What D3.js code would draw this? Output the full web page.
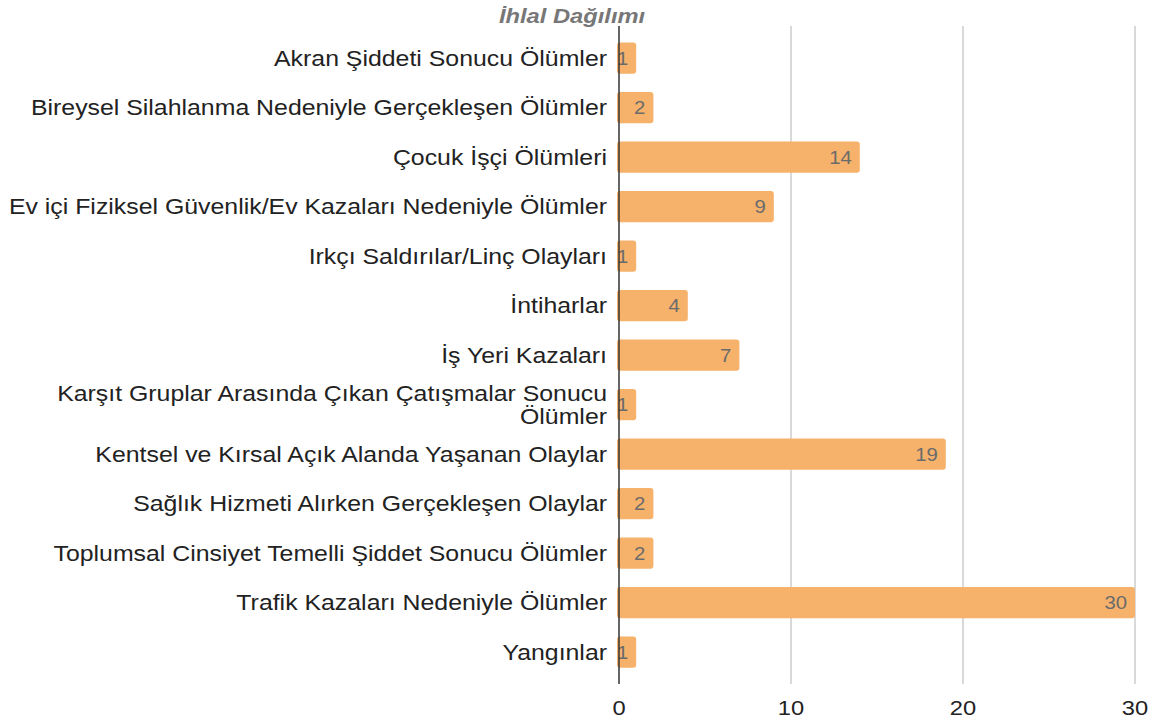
<!DOCTYPE html>
<html>
<head>
<meta charset="utf-8">
<script src="https://cdn.jsdelivr.net/npm/d3@7"></script>
<style>
  body { margin: 0; background: #fff; }
  svg { display: block; font-family: "Liberation Sans", Arial, sans-serif; }
</style>
</head>
<body>
<div id="chart"></div>
<script>
// ---- Data ----
const categories = [
  "Akran Şiddeti Sonucu Ölümler",
  "Bireysel Silahlanma Nedeniyle Gerçekleşen Ölümler",
  "Çocuk İşçi Ölümleri",
  "Ev içi Fiziksel Güvenlik/Ev Kazaları Nedeniyle Ölümler",
  "Irkçı Saldırılar/Linç Olayları",
  "İntiharlar",
  "İş Yeri Kazaları",
  "Karşıt Gruplar Arasında Çıkan Çatışmalar Sonucu Ölümler",
  "Kentsel ve Kırsal Açık Alanda Yaşanan Olaylar",
  "Sağlık Hizmeti Alırken Gerçekleşen Olaylar",
  "Toplumsal Cinsiyet Temelli Şiddet Sonucu Ölümler",
  "Trafik Kazaları Nedeniyle Ölümler",
  "Yangınlar"
];
const values = [1, 2, 14, 9, 1, 4, 7, 1, 19, 2, 2, 30, 1];
const xTicks = [0, 10, 20, 30];
// line breaks for long labels
const labelLines = {
  "Karşıt Gruplar Arasında Çıkan Çatışmalar Sonucu Ölümler":
    ["Karşıt Gruplar Arasında Çıkan Çatışmalar Sonucu", "Ölümler"]
};
const title = "İhlal Dağılımı";

const W = 1157, H = 726;
const SX = 1.13; // text in the source is slightly wide
const svg = d3.select("#chart").append("svg")
  .attr("width", W).attr("height", H);

const x = d3.scaleLinear().domain([0, 30]).range([619, 1135]);
const y = d3.scaleBand().domain(categories).range([33.3, 676.8]).paddingInner(0.37).paddingOuter(0.185);

// place a text node at (px, py) with horizontal stretch
const at = (px, py) => `translate(${px},${py}) scale(${SX},1)`;

// ---- Gridlines ----
svg.append("g").selectAll("line")
  .data(xTicks.filter(d => d > 0))
  .join("line")
  .attr("x1", d => x(d)).attr("x2", d => x(d))
  .attr("y1", 26).attr("y2", 684)
  .attr("stroke", "#cccccc").attr("stroke-width", 1.5);

// ---- Bars ----
svg.append("g").selectAll("rect")
  .data(values)
  .join("rect")
  .attr("x", x(0) - 2)
  .attr("y", (d, i) => y(categories[i]))
  .attr("width", d => x(d) - x(0) + 2)
  .attr("height", y.bandwidth())
  .attr("rx", 3)
  .attr("fill", "#f6b26b");

// ---- Value labels ----
svg.append("g").selectAll("text")
  .data(values)
  .join("text")
  .attr("transform", (d, i) => at(x(d) - 8, y(categories[i]) + y.bandwidth() / 2))
  .attr("dy", "0.36em")
  .attr("text-anchor", "end")
  .style("font-size", "18px")
  .style("fill", "#6b6b6b")
  .text(d => d);

// ---- Zero axis line ----
svg.append("line")
  .attr("x1", x(0)).attr("x2", x(0))
  .attr("y1", 26).attr("y2", 684)
  .attr("stroke", "#333").attr("stroke-width", 1.5);

// ---- Category labels ----
const catG = svg.append("g").selectAll("text")
  .data(categories)
  .join("text")
  .attr("text-anchor", "end")
  .attr("transform", d => at(607, y(d) + y.bandwidth() / 2))
  .style("font-size", "22px")
  .style("fill", "#222");

catG.each(function(d) {
  const lines = labelLines[d] || [d];
  const t = d3.select(this);
  lines.forEach((ln, k) => {
    t.append("tspan")
      .attr("x", 0)
      .attr("dy", k === 0 ? (0.36 - (lines.length - 1) * 0.52) + "em" : "1.04em")
      .text(ln);
  });
});

// ---- X tick labels ----
svg.append("g").selectAll("text")
  .data(xTicks)
  .join("text")
  .attr("transform", d => at(x(d), 715))
  .attr("text-anchor", "middle")
  .style("font-size", "21px")
  .style("fill", "#222")
  .text(d => d);

// ---- Title ----
svg.append("text")
  .attr("transform", at(572, 23))
  .attr("text-anchor", "middle")
  .style("font-size", "21px")
  .style("font-weight", "bold")
  .style("font-style", "italic")
  .style("fill", "#777")
  .text(title);
</script>
</body>
</html>
